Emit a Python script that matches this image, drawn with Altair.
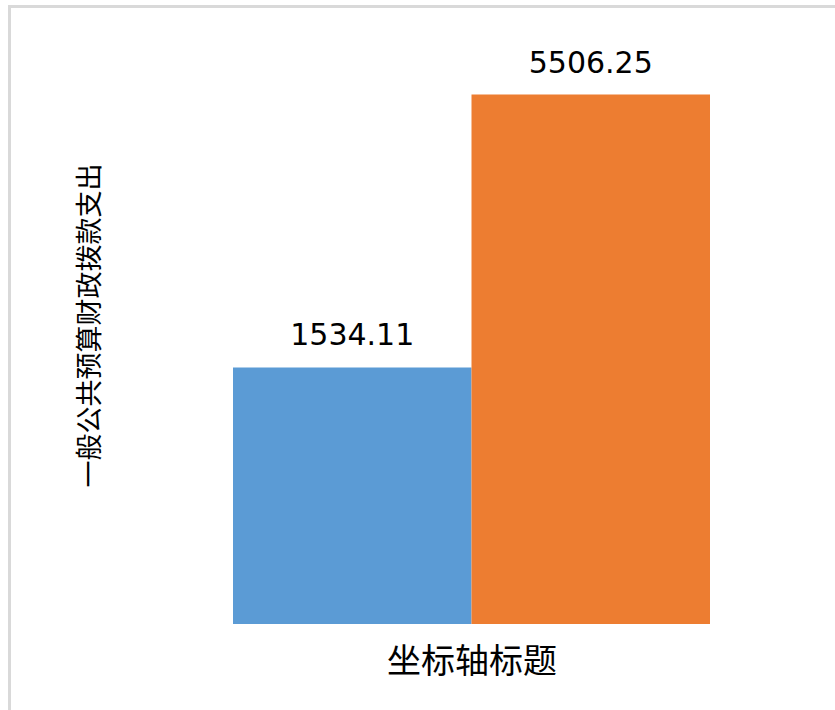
import altair as alt
import pandas as pd

series = ["系列1", "系列2"]
values = [1534.11, 5506.25]
labels = ["1534.11", "5506.25"]
colors = ["#5B9BD5", "#ED7D31"]
y_title = "一般公共预算财政拨款支出"
x_title = "坐标轴标题"
Y_DOMAIN = [-2200, 6300]

df = pd.DataFrame({"series": series, "value": values, "label": labels})
frame = pd.DataFrame({"k": [0]})

W, H = 477, 584
LEFT, TOP = 233, 40

x_enc = alt.X(
    "series:N",
    sort=series,
    scale=alt.Scale(paddingInner=0, paddingOuter=0),
    axis=alt.Axis(
        title=x_title, labels=False, ticks=False, domain=False, grid=False,
        titleFont="Noto Sans CJK SC", titleFontSize=34, titleFontWeight="normal",
        titleColor="#000000", titleX=W / 2, titleY=38,
        titleBaseline="middle", titleAlign="center",
    ),
)
y_enc = alt.Y(
    "value:Q",
    scale=alt.Scale(domain=Y_DOMAIN, zero=False, nice=False),
    axis=alt.Axis(
        title=y_title, labels=False, ticks=False, domain=False, grid=False,
        titleFont="Noto Sans CJK SC", titleFontSize=27, titleFontWeight="normal",
        titleColor="#000000", titleAngle=270, titleX=-143, titleY=285,
        titleBaseline="middle", titleAlign="center",
    ),
)

bars = alt.Chart(df).mark_bar().encode(
    x=x_enc,
    y=y_enc,
    y2=alt.datum(Y_DOMAIN[0]),
    color=alt.Color("series:N", scale=alt.Scale(domain=series, range=colors), legend=None),
)

text = alt.Chart(df).mark_text(
    dy=-22, baseline="alphabetic", align="center", fontSize=30,
    font="DejaVu Sans", color="#000000",
).encode(x=alt.X("series:N", sort=series), y="value:Q", text="label:N")

border_left = alt.Chart(frame).mark_rule(color="#d9d9d9", strokeWidth=3).encode(
    x=alt.value(9.5 - LEFT), y=alt.value(5 - TOP), y2=alt.value(710 - TOP)
)
border_top = alt.Chart(frame).mark_rule(color="#d9d9d9", strokeWidth=3).encode(
    x=alt.value(8 - LEFT), x2=alt.value(835 - LEFT), y=alt.value(6.5 - TOP)
)

chart = alt.layer(bars, text, border_left, border_top).properties(
    width=W,
    height=H,
    padding={"left": LEFT, "top": TOP, "right": 835 - LEFT - W, "bottom": 710 - TOP - H},
    autosize=alt.AutoSizeParams(type="none"),
    background="white",
).configure_view(stroke=None)

chart.save("out.html", embed_options={"renderer": "svg", "actions": False})
